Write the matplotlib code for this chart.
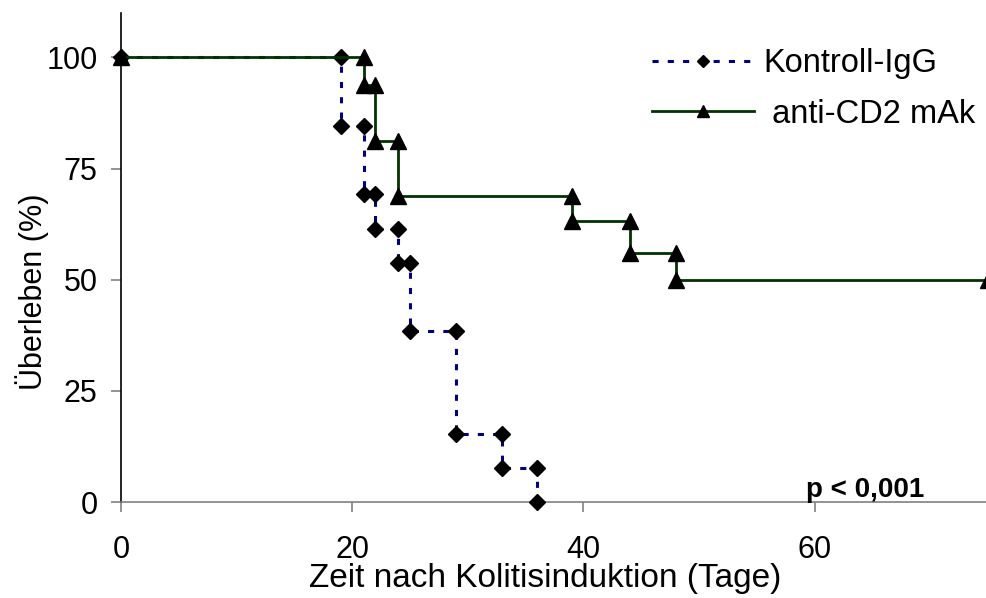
import matplotlib
matplotlib.use("Agg")
import matplotlib.pyplot as plt

plt.rcParams['font.family'] = ['Liberation Sans', 'DejaVu Sans']

# Kaplan-Meier Daten (Tage, Ueberleben in % nach dem Ereignis)
kontroll_tage = [19, 21, 22, 24, 25, 29, 33, 36]
kontroll_surv = [84.6, 69.2, 61.5, 53.8, 38.5, 15.4, 7.7, 0]
cd2_tage = [21, 22, 24, 39, 44, 48]
cd2_surv = [93.75, 81.25, 68.75, 63.3, 55.9, 50]
cd2_ende = 75

x_ticks = [0, 20, 40, 60]
y_ticks = [0, 25, 50, 75, 100]


def km_punkte(tage, surv, ende=None):
    # Eckpunkte der Treppenkurve (vor und nach jedem Ereignis)
    x = [0]
    y = [100]
    prev = 100
    for t, s in zip(tage, surv):
        x += [t, t]
        y += [prev, s]
        prev = s
    if ende is not None:
        x.append(ende)
        y.append(prev)
    return x, y


fig = plt.figure(figsize=(9.86, 5.98), dpi=100)
ax = fig.add_axes([121/986, 1 - 502/598, 75*11.56/986, (502 - 13)/598])

kx, ky = km_punkte(kontroll_tage, kontroll_surv)
cx, cy = km_punkte(cd2_tage, cd2_surv, cd2_ende)

ax.plot(kx, ky, color='#000080', lw=2.2, linestyle=(0, (2, 3)),
        marker='D', ms=8, mfc='black', mec='black', clip_on=False,
        label='Kontroll-IgG', zorder=3)
ax.plot(cx, cy, color='#003300', lw=2.0, linestyle='-',
        marker='^', ms=11, mfc='black', mec='black', clip_on=False,
        label=' anti-CD2 mAk', zorder=3)

ax.set_xlim(0, 75)
ax.set_ylim(0, 110)
ax.set_xticks(x_ticks)
ax.set_yticks(y_ticks)
ax.tick_params(axis='both', direction='out', length=7, width=1.2,
               color='#808080', labelsize=22)
ax.tick_params(axis='x', pad=17)
ax.tick_params(axis='y', pad=10)

for s in ['top', 'right']:
    ax.spines[s].set_visible(False)
ax.spines['left'].set_color('black')
ax.spines['bottom'].set_color('#808080')
ax.spines['left'].set_linewidth(1.2)
ax.spines['bottom'].set_linewidth(1.2)

fig.text(545/986, 1 - 578/598, 'Zeit nach Kolitisinduktion (Tage)',
         ha='center', va='center', fontsize=24)
fig.text(32/986, 1 - 292/598, 'Überleben (%)', rotation=90,
         ha='center', va='center', fontsize=22)

ax.text(865/986, 1 - 490/598, 'p < 0,001', transform=fig.transFigure,
        ha='center', va='center', fontsize=20, fontweight='bold')

leg = ax.legend(loc='upper left', bbox_to_anchor=(636/986, 1 - 32/598),
                bbox_transform=fig.transFigure, frameon=False, fontsize=23.5,
                handlelength=3.1, handletextpad=0.3, labelspacing=0.6,
                borderpad=0, numpoints=1, markerscale=0.8)

fig.savefig('out.png', dpi=100)
